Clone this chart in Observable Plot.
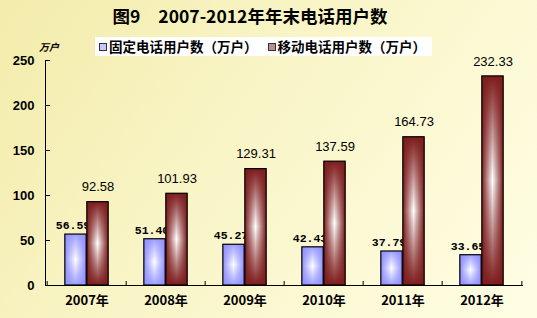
<!DOCTYPE html>
<html><head><meta charset="utf-8">
<script src="https://cdn.jsdelivr.net/npm/d3@7"></script>
<script src="https://cdn.jsdelivr.net/npm/@observablehq/plot@0.6"></script>
<style>
body{margin:0;}
#chart{position:relative;width:537px;height:318px;overflow:hidden;
  background:linear-gradient(125deg,#f3ecab 0%,#f9f5c8 45%,#fffee4 100%);}
#chart svg{position:absolute;left:0;top:0;}
#title{position:absolute;left:0;top:5px;width:500px;text-align:center;white-space:pre;word-spacing:5px;
  font:bold 17.5px "Noto Sans CJK SC",sans-serif;line-height:22px;color:#000;}
#unit{position:absolute;left:39px;top:40px;font:italic bold 10px "Noto Sans CJK SC",sans-serif;line-height:14px;}
#legend{position:absolute;left:95px;top:37px;width:337px;height:19px;background:#fff;
  display:flex;align-items:center;font:bold 13.5px "Noto Sans CJK SC",sans-serif;line-height:19px;}
.item{display:flex;align-items:center;margin-left:4px;margin-right:6px;}
.sw{width:6px;height:6px;margin-right:2px;border:1px solid #333;}
</style></head>
<body>
<div id="chart">
  <div id="title"></div>
  <div id="unit"></div>
  <div id="legend"></div>
</div>
<script>
const titleText = "图9  2007-2012年年末电话用户数";
const unitText = "万户";
const years = ["2007年","2008年","2009年","2010年","2011年","2012年"];
const fixedLine = [56.59, 51.40, 45.27, 42.43, 37.79, 33.65];
const mobile = [92.58, 101.93, 129.31, 137.59, 164.73, 232.33];
const yTicks = [0, 50, 100, 150, 200, 250];
const seriesNames = ["固定电话用户数（万户）", "移动电话用户数（万户）"];
const seriesColors = ["#8f8fff", "#7d1c1c"];
const swatchFills = ["#c8c8ff", "#b89090"];

document.getElementById("title").textContent = titleText;
document.getElementById("unit").textContent = unitText;
const legend = document.getElementById("legend");
seriesNames.forEach((name, i) => {
  const it = document.createElement("div"); it.className = "item";
  const sw = document.createElement("div"); sw.className = "sw";
  sw.style.background = swatchFills[i];
  it.appendChild(sw);
  const t = document.createElement("span"); t.textContent = name;
  it.appendChild(t);
  legend.appendChild(it);
});

const fixedRows = years.map((y, i) => ({year: y, value: fixedLine[i]}));
const mobileRows = years.map((y, i) => ({year: y, value: mobile[i]}));

const W = 537, H = 318, mL = 45, mR = 14, mT = 60, mB = 33;
const bw = (W - mL - mR) / years.length;
const barW = 22, off = (bw - 2 * barW) / 2;
const axisFont = {fontWeight: "bold", fontSize: 13, fontFamily: "'Liberation Sans', 'Noto Sans CJK SC', sans-serif"};

const plot = Plot.plot({
  width: W, height: H,
  marginLeft: mL, marginRight: mR, marginTop: mT, marginBottom: mB,
  style: {background: "transparent", overflow: "visible", color: "#000"},
  x: {domain: years, padding: 0, label: null},
  y: {domain: [0, 250], label: null},
  marks: [
    Plot.axisY({ticks: yTicks, tickSize: 0, tickPadding: 11, ...axisFont, fill: "#000"}),
    Plot.axisY({ticks: yTicks, tickSize: -5, text: null, stroke: "#000"}),
    Plot.axisX({tickSize: 0, tickPadding: 10, ...axisFont, fill: "#000",
      fontFamily: "'Noto Sans CJK SC', sans-serif"}),
    Plot.axisX({ticks: years, tickSize: -4, dx: -bw / 2, text: null, stroke: "#000"}),
    Plot.axisX({ticks: [years[years.length - 1]], tickSize: -4, dx: bw / 2, text: null, stroke: "#000"}),
    Plot.barY(fixedRows, {x: "year", y: "value", fill: "url(#gBlueH)",
      insetLeft: off, insetRight: bw - off - barW}),
    Plot.barY(fixedRows, {x: "year", y: "value", fill: "url(#gBlueV)", stroke: "#000", strokeWidth: 1.2,
      insetLeft: off, insetRight: bw - off - barW}),
    Plot.text(fixedRows, {x: "year", y: "value", text: d => d.value.toFixed(2),
      dx: -barW / 2 - 3, dy: -9, fontFamily: "'Liberation Mono', monospace", fontWeight: "bold",
      fontSize: 11.5, fill: "#000"}),
    Plot.barY(mobileRows, {x: "year", y: "value", fill: "url(#gRedH)",
      insetLeft: bw - off - barW, insetRight: off}),
    Plot.barY(mobileRows, {x: "year", y: "value", fill: "url(#gRedV)", stroke: "#000", strokeWidth: 1.2,
      insetLeft: bw - off - barW, insetRight: off}),
    Plot.text(mobileRows, {x: "year", y: "value", text: d => d.value.toFixed(2),
      dx: barW / 2, dy: -15, fontFamily: "'Liberation Sans', sans-serif",
      fontSize: 13, fill: "#000"}),
    Plot.frame({anchor: "left", stroke: "#000"}),
    Plot.ruleY([0], {stroke: "#000"})
  ]
});

const svg = d3.select(plot);
const defs = svg.insert("defs", ":first-child");
function grad(id, vertical, color, edgeOpacity, centerColor, centerOpacity) {
  const g = defs.append("linearGradient").attr("id", id)
    .attr("x1", 0).attr("y1", 0).attr("x2", vertical ? 0 : 1).attr("y2", vertical ? 1 : 0);
  g.append("stop").attr("offset", "0%").attr("stop-color", color).attr("stop-opacity", edgeOpacity);
  g.append("stop").attr("offset", "50%").attr("stop-color", centerColor).attr("stop-opacity", centerOpacity);
  g.append("stop").attr("offset", "100%").attr("stop-color", color).attr("stop-opacity", edgeOpacity);
}
grad("gBlueH", false, seriesColors[0], 1, "#ffffff", 1);
grad("gBlueV", true, seriesColors[0], 0.85, seriesColors[0], 0);
grad("gRedH", false, seriesColors[1], 1, "#ffffff", 1);
grad("gRedV", true, seriesColors[1], 1, seriesColors[1], 0);

document.getElementById("chart").insertBefore(plot, document.getElementById("title"));
</script>
</body></html>
